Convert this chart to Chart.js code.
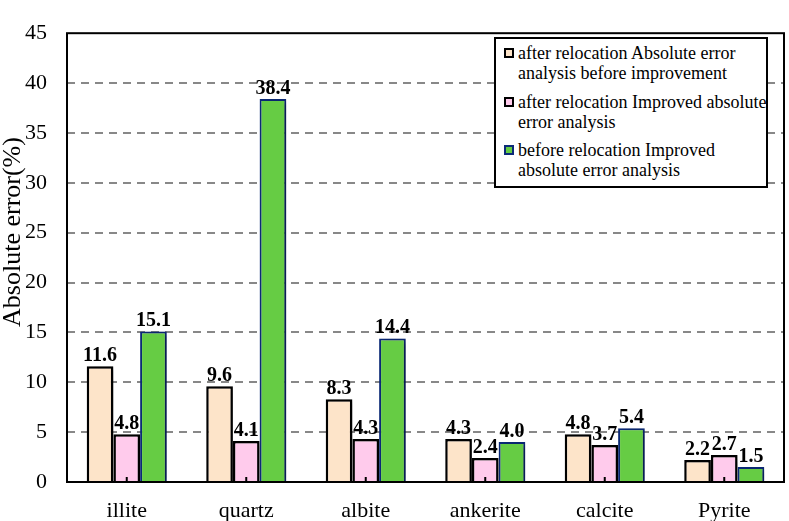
<!DOCTYPE html>
<html>
<head>
<meta charset="utf-8">
<script src="https://cdn.jsdelivr.net/npm/chart.js@4/dist/chart.umd.min.js"></script>
<style>
  html, body { margin: 0; padding: 0; background: #fff; }
  #wrap { position: relative; width: 789px; height: 521px; }
  #legend {
    position: absolute; left: 494px; top: 37px; width: 270px; height: 147px;
    border: 2px solid #000; background: #fff; box-sizing: content-box;
    font-family: "Liberation Serif", "Times New Roman", serif; font-size: 18px; line-height: 20px;
  }
  .item { position: absolute; left: 22px; white-space: nowrap; }
  .item .box { position: absolute; left: -14px; top: 5px; width: 6px; height: 6px; border: 2px solid #000; }
</style>
</head>
<body>
<div id="wrap">
  <canvas id="c" width="789" height="521"></canvas>
  <div id="legend"></div>
</div>
<script>
let minerals = ["illite", "quartz", "albite", "ankerite", "calcite", "Pyrite"];
let afterBefore = [11.6, 9.6, 8.3, 4.3, 4.8, 2.2];
let afterImproved = [4.8, 4.1, 4.3, 2.4, 3.7, 2.7];
let beforeImproved = [15.1, 38.4, 14.4, 4.0, 5.4, 1.5];
let yTitle = "Absolute error(%)";
let seriesNames = [
  ["after relocation Absolute error", "analysis before improvement"],
  ["after relocation Improved absolute", "error analysis"],
  ["before relocation Improved", "absolute error analysis"]
];
let fills = ["#fde4c9", "#ffcbec", "#66cc44"];
let edges = ["#000000", "#000000", "#0b2a78"];

// legend built as html so the labels can wrap over two lines
let legendTops = [4, 53, 101];
let legend = document.getElementById("legend");
seriesNames.forEach((lines, i) => {
  let item = document.createElement("div");
  item.className = "item";
  item.style.top = legendTops[i] + "px";
  item.innerHTML = `<div class="box" style="background:${fills[i]};border-color:${edges[i]}"></div>${lines.join("<br>")}`;
  legend.appendChild(item);
});

const serif = "'Liberation Serif', 'Times New Roman', serif";

const frame = {
  id: "frame",
  beforeDatasetsDraw(chart) {
    let ctx = chart.ctx;
    ctx.save();
    ctx.shadowColor = "rgba(0,0,0,0.35)";
    ctx.shadowBlur = 6;
    ctx.shadowOffsetX = 4;
    ctx.shadowOffsetY = 2;
  },
  afterDatasetsDraw(chart) {
    let ctx = chart.ctx;
    ctx.restore();
    let a = chart.chartArea;
    // value labels
    ctx.save();
    ctx.font = "bold 20px " + serif;
    ctx.fillStyle = "#000";
    ctx.textAlign = "center";
    ctx.textBaseline = "alphabetic";
    chart.data.datasets.forEach((ds, di) => {
      chart.getDatasetMeta(di).data.forEach((bar, i) => {
        ctx.fillText(ds.data[i].toFixed(1), bar.x, bar.y - 5);
      });
    });
    // small tick marks at category centres
    let xs = chart.scales.x;
    ctx.strokeStyle = "#000";
    ctx.lineWidth = 2;
    minerals.forEach((m, i) => {
      let x = xs.getPixelForValue(i);
      ctx.beginPath();
      ctx.moveTo(x, a.bottom);
      ctx.lineTo(x, a.bottom - 5);
      ctx.stroke();
    });
    // box around plot area
    ctx.lineWidth = 2;
    ctx.strokeRect(a.left, a.top, a.right - a.left, a.bottom - a.top);
    // y axis title, sits a little above the middle like the original
    ctx.translate(13, 232);
    ctx.rotate(-Math.PI / 2);
    ctx.font = "26px " + serif;
    ctx.textBaseline = "middle";
    ctx.fillText(yTitle, 0, 0);
    ctx.restore();
  }
};

new Chart(document.getElementById("c"), {
  type: "bar",
  data: {
    labels: minerals,
    datasets: [afterBefore, afterImproved, beforeImproved].map((d, i) => ({
      label: seriesNames[i].join(" "),
      data: d,
      backgroundColor: fills[i],
      borderColor: edges[i],
      borderWidth: i == 2 ? 2 : 2.5,
      categoryPercentage: 0.67,
      barPercentage: 1
    }))
  },
  options: {
    responsive: false,
    animation: false,
    layout: { padding: { top: 8, right: 5, left: 0, bottom: 0 } },
    plugins: { legend: { display: false }, tooltip: { enabled: false } },
    scales: {
      x: {
        grid: { display: false },
        border: { display: false },
        ticks: { color: "#000", font: { family: serif, size: 22 }, padding: 8 },
        afterFit(scale) { scale.height = 39; }
      },
      y: {
        min: 0,
        max: 45,
        ticks: { stepSize: 5, color: "#000", font: { family: serif, size: 22 }, padding: 20 },
        grid: {
          drawTicks: false,
          color: (c) => (c.tick.value == 0 || c.tick.value == 45 ? "rgba(0,0,0,0)" : "#888"),
          lineWidth: 2
        },
        border: { display: false, dash: [8, 6] },
        afterFit(scale) { scale.width = 67; }
      }
    }
  },
  plugins: [frame]
});
</script>
</body>
</html>
